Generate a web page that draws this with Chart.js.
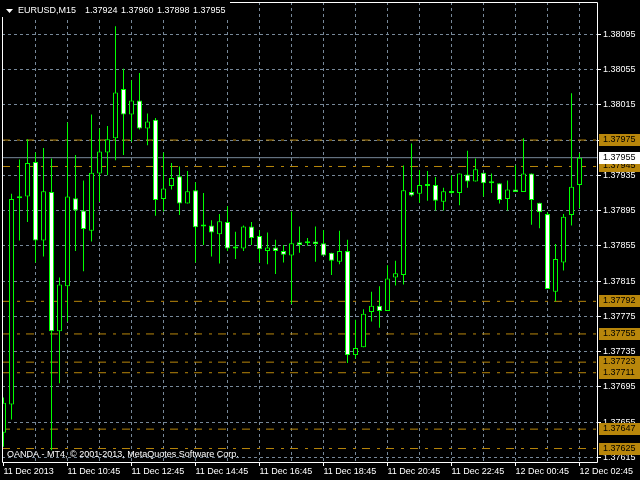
<!DOCTYPE html>
<html>
<head>
<meta charset="utf-8">
<script src="https://cdn.jsdelivr.net/npm/chart.js@4"></script>
<style>
  html, body { margin: 0; padding: 0; background: #000; }
  canvas { display: block; }
</style>
</head>
<body>
<canvas id="chart" width="640" height="480"></canvas>
<script>
// EURUSD M15, 11 Dec 2013 08:45 .. 12 Dec 02:45 (73 bars)
const symbol = 'EURUSD,M15'
const opens = [
  1.37643, 1.37675, 1.37909, 1.37911, 1.37950, 1.37861, 1.37916, 1.37758, 1.37809, 1.37909,
  1.37895, 1.37872, 1.37937, 1.37961, 1.37977, 1.38033, 1.38004, 1.38020, 1.37988, 1.37998,
  1.37908, 1.37923, 1.37934, 1.37903, 1.37918, 1.37877, 1.37878, 1.37868, 1.37882, 1.37854,
  1.37852, 1.37877, 1.37866, 1.37849, 1.37853, 1.37849, 1.37844, 1.37859, 1.37858, 1.37860,
  1.37858, 1.37847, 1.37837, 1.37849, 1.37731, 1.37740, 1.37780, 1.37787, 1.37781, 1.37819,
  1.37822, 1.37916, 1.37914, 1.37923, 1.37924, 1.37905, 1.37917, 1.37915, 1.37936, 1.37928,
  1.37938, 1.37926, 1.37926, 1.37908, 1.37919, 1.37916, 1.37937, 1.37904, 1.37891, 1.37803,
  1.37836, 1.37890, 1.37924
]
const highs = [
  1.37683, 1.37914, 1.37953, 1.37976, 1.37961, 1.37966, 1.37954, 1.37819, 1.37995, 1.37958,
  1.37929, 1.38004, 1.37988, 1.37991, 1.38104, 1.38056, 1.38043, 1.38051, 1.38005, 1.38000,
  1.37961, 1.37949, 1.37945, 1.37940, 1.37927, 1.37915, 1.37884, 1.37891, 1.37900, 1.37871,
  1.37878, 1.37882, 1.37873, 1.37870, 1.37862, 1.37856, 1.37894, 1.37877, 1.37864, 1.37877,
  1.37873, 1.37847, 1.37872, 1.37862, 1.37771, 1.37783, 1.37803, 1.37809, 1.37833, 1.37838,
  1.37946, 1.37971, 1.37941, 1.37940, 1.37933, 1.37921, 1.37935, 1.37937, 1.37963, 1.37954,
  1.37938, 1.37937, 1.37926, 1.37929, 1.37946, 1.37977, 1.37937, 1.37904, 1.37893, 1.37857,
  1.37891, 1.38028, 1.37960
]
const lows = [
  1.37627, 1.37658, 1.37861, 1.37882, 1.37836, 1.37843, 1.37623, 1.37699, 1.37769, 1.37849,
  1.37826, 1.37860, 1.37905, 1.37935, 1.37952, 1.37958, 1.37973, 1.37987, 1.37969, 1.37889,
  1.37894, 1.37919, 1.37890, 1.37903, 1.37836, 1.37856, 1.37843, 1.37835, 1.37849, 1.37840,
  1.37849, 1.37856, 1.37836, 1.37834, 1.37823, 1.37836, 1.37789, 1.37847, 1.37855, 1.37837,
  1.37844, 1.37822, 1.37834, 1.37722, 1.37727, 1.37740, 1.37769, 1.37762, 1.37781, 1.37810,
  1.37811, 1.37911, 1.37904, 1.37906, 1.37895, 1.37895, 1.37914, 1.37901, 1.37921, 1.37928,
  1.37911, 1.37915, 1.37903, 1.37895, 1.37916, 1.37916, 1.37879, 1.37875, 1.37806, 1.37792,
  1.37827, 1.37878, 1.37898
]
const closes = [
  1.37677, 1.37908, 1.37909, 1.37949, 1.37861, 1.37917, 1.37758, 1.37811, 1.37911, 1.37895,
  1.37874, 1.37938, 1.37962, 1.37976, 1.38029, 1.38004, 1.38020, 1.37988, 1.37996, 1.37907,
  1.37920, 1.37932, 1.37903, 1.37917, 1.37876, 1.37877, 1.37870, 1.37883, 1.37852, 1.37852,
  1.37877, 1.37864, 1.37851, 1.37853, 1.37849, 1.37845, 1.37858, 1.37856, 1.37860, 1.37857,
  1.37844, 1.37838, 1.37849, 1.37731, 1.37739, 1.37778, 1.37787, 1.37781, 1.37818, 1.37824,
  1.37918, 1.37912, 1.37924, 1.37924, 1.37906, 1.37917, 1.37915, 1.37937, 1.37928, 1.37942,
  1.37926, 1.37926, 1.37907, 1.37919, 1.37916, 1.37937, 1.37907, 1.37893, 1.37806, 1.37840,
  1.37888, 1.37922, 1.37955
]
// one label every 8 bars (2 hours), grid line every 4 bars
const timeLabels = [
  '11 Dec 2013', '11 Dec 10:45', '11 Dec 12:45', '11 Dec 14:45', '11 Dec 16:45',
  '11 Dec 18:45', '11 Dec 20:45', '11 Dec 22:45', '12 Dec 00:45', '12 Dec 02:45'
]
const priceTicks = [
  1.38095, 1.38055, 1.38015, 1.37975, 1.37935, 1.37895, 1.37855,
  1.37815, 1.37775, 1.37735, 1.37695, 1.37655, 1.37615
]
const levels = [1.37975, 1.37945, 1.37792, 1.37755, 1.37723, 1.37711, 1.37647, 1.37625]
const bid = 1.37955

const green = '#00ff00'
const gridColor = '#778899'
const levelColor = '#b8860b'
const labelEvery = 8
const gridEvery = 4
const xMin = -0.1875
const xMax = 74.1875
const font = "9px 'Liberation Sans', Arial, sans-serif"

Chart.defaults.font.family = "'Liberation Sans', Arial, sans-serif"
Chart.defaults.font.size = 9
Chart.defaults.color = '#ffffff'

let levelSets = levels.map(lv => ({
  type: 'line',
  data: [{ x: xMin, y: lv }, { x: xMax, y: lv }],
  borderColor: levelColor,
  borderWidth: 1,
  borderDash: [8, 7, 3, 6],
  pointRadius: 0,
  order: 2
}))

let overlay = {
  id: 'overlay',
  beforeDraw (chart) {
    let ctx = chart.ctx
    ctx.save()
    ctx.fillStyle = '#000'
    ctx.fillRect(0, 0, chart.width, chart.height)
    ctx.restore()
  },
  afterDraw (chart) {
    let ctx = chart.ctx
    let a = chart.chartArea
    let ys = chart.scales.y
    ctx.save()
    // frame
    ctx.strokeStyle = '#ffffff'
    ctx.lineWidth = 1
    ctx.beginPath()
    ctx.moveTo(a.left + 0.5, a.top + 0.5)
    ctx.lineTo(a.right + 0.5, a.top + 0.5)
    ctx.lineTo(a.right + 0.5, a.bottom + 0.5)
    ctx.lineTo(a.left + 0.5, a.bottom + 0.5)
    ctx.closePath()
    ctx.stroke()

    ctx.font = font
    ctx.textBaseline = 'middle'
    ctx.textAlign = 'left'
    const box = (v, bg, fg) => {
      let py = Math.round(ys.getPixelForValue(v))
      ctx.fillStyle = bg
      ctx.fillRect(a.right + 2, py - 6, chart.width - a.right - 2, 12)
      ctx.fillStyle = fg
      ctx.fillText(v.toFixed(5), a.right + 6, py)
    }
    levels.forEach(lv => box(lv, levelColor, '#000000'))
    box(bid, '#ffffff', '#000000')

    // header with its own black background
    let last = opens.length - 1
    ctx.fillStyle = '#000000'
    ctx.fillRect(0, 0, 230, 17)
    ctx.fillStyle = '#ffffff'
    ctx.beginPath()
    ctx.moveTo(6, 9)
    ctx.lineTo(13, 9)
    ctx.lineTo(9.5, 13)
    ctx.closePath()
    ctx.fill()
    ctx.fillText(symbol, 18, 11)
    let vals = [opens[last], highs[last], lows[last], closes[last]]
    vals.forEach((v, i) => ctx.fillText(v.toFixed(5), 85 + i * 36, 11))
    ctx.fillText('OANDA - MT4, \u00a9 2001-2013, MetaQuotes Software Corp.', 7, a.bottom - 7)
    ctx.restore()
  }
}

let chart = new Chart(document.getElementById('chart'), {
  type: 'bar',
  data: {
    datasets: [
      {
        type: 'bar',
        label: 'body',
        data: opens.map((o, i) => ({ x: i, y: [o, closes[i]] })),
        grouped: false,
        barThickness: 5,
        maxBarThickness: 5,
        minBarLength: 2,
        borderWidth: 1,
        borderColor: green,
        borderSkipped: false,
        inflateAmount: 0,
        backgroundColor: c => (c.dataIndex !== undefined && closes[c.dataIndex] < opens[c.dataIndex]) ? '#ffffff' : '#000000',
        order: 0
      },
      {
        type: 'bar',
        label: 'wick',
        data: lows.map((l, i) => ({ x: i, y: [l, highs[i]] })),
        grouped: false,
        barThickness: 1,
        maxBarThickness: 1,
        borderWidth: 0,
        inflateAmount: 0,
        backgroundColor: green,
        order: 1
      },
      ...levelSets,
      {
        type: 'line',
        label: 'bid',
        data: [{ x: xMin, y: bid }, { x: xMax, y: bid }],
        borderColor: gridColor,
        borderWidth: 1,
        pointRadius: 0,
        order: 2
      }
    ]
  },
  options: {
    responsive: false,
    animation: false,
    events: [],
    layout: { padding: { left: 2, top: 2, right: 0, bottom: 0 } },
    plugins: {
      legend: { display: false },
      tooltip: { enabled: false }
    },
    scales: {
      x: {
        type: 'linear',
        min: xMin,
        max: xMax,
        offset: false,
        afterFit: s => {
          s.height = 18
          s.paddingLeft = 0
          s.paddingRight = 0
        },
        afterBuildTicks: s => {
          let t = []
          for (let v = 0; v < opens.length; v += gridEvery) t.push({ value: v })
          s.ticks = t
        },
        ticks: {
          callback: v => v % labelEvery === 0 ? timeLabels[v / labelEvery] : '',
          align: 'start',
          maxRotation: 0,
          minRotation: 0,
          autoSkip: false,
          padding: 0,
          color: '#ffffff'
        },
        grid: {
          offset: false,
          color: c => (c.tick && c.tick.value === 0) ? 'rgba(0,0,0,0)' : gridColor,
          lineWidth: 1,
          tickLength: 4,
          tickColor: c => (c.tick && c.tick.value % labelEvery === 0) ? '#ffffff' : 'rgba(0,0,0,0)'
        },
        border: { display: false, dash: [3, 3] }
      },
      y: {
        position: 'right',
        min: 1.376097,
        max: 1.3813165,
        beginAtZero: false,
        afterFit: s => {
          s.width = 43
          s.paddingTop = 0
          s.paddingBottom = 0
        },
        afterBuildTicks: s => { s.ticks = priceTicks.map(v => ({ value: v })) },
        ticks: {
          callback: v => v.toFixed(5),
          autoSkip: false,
          padding: 2,
          color: '#ffffff'
        },
        grid: {
          color: gridColor,
          lineWidth: 1,
          tickLength: 4,
          tickColor: '#ffffff'
        },
        border: { display: false, dash: [3, 3] }
      }
    }
  },
  plugins: [overlay]
})
</script>
</body>
</html>
